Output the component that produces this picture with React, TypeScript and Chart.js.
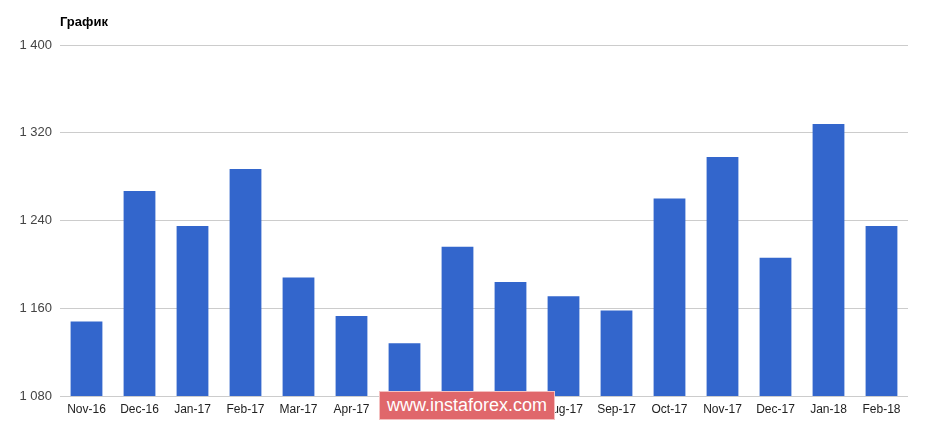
import React, { useEffect, useRef } from "react";
import { Chart, registerables } from "chart.js";

Chart.register(...registerables);

const categories = [
  "Nov-16", "Dec-16", "Jan-17", "Feb-17", "Mar-17", "Apr-17", "May-17", "Jun-17",
  "Jul-17", "Aug-17", "Sep-17", "Oct-17", "Nov-17", "Dec-17", "Jan-18", "Feb-18",
];
const values = [
  1148, 1267, 1235, 1287, 1188, 1153, 1128, 1216,
  1184, 1171, 1158, 1260, 1298, 1206, 1328, 1235,
];
const yTicks = [1080, 1160, 1240, 1320, 1400];
const chartTitle = "График";
const watermark = "www.instaforex.com";

const fmt = (v: number) => {
  const s = String(Math.round(v));
  return s.replace(/\B(?=(\d{3})+(?!\d))/g, " ");
};

export default function App() {
  const ref = useRef<HTMLCanvasElement | null>(null);

  useEffect(() => {
    document.body.style.margin = "0";
    const ctx = ref.current!.getContext("2d")!;
    const titlePlugin = {
      id: "leftTitle",
      afterDraw(chart: any) {
        const c = chart.ctx;
        c.save();
        c.font = "bold 13px Arial, 'Liberation Sans', sans-serif";
        c.fillStyle = "#000";
        c.textBaseline = "middle";
        c.textAlign = "left";
        c.fillText(chartTitle, chart.chartArea.left, 22);
        c.restore();
      },
    };
    const chart = new Chart(ctx, {
      type: "bar",
      data: {
        labels: categories,
        datasets: [
          {
            data: values,
            backgroundColor: "#3366CC",
            categoryPercentage: 1,
            barPercentage: 0.6,
          },
        ],
      },
      options: {
        animation: false,
        responsive: false,
        maintainAspectRatio: false,
        layout: { padding: { left: 0, right: 27, top: 45, bottom: 0 } },
        plugins: {
          legend: { display: false },
          title: { display: false },
          tooltip: { enabled: false },
        },
        scales: {
          x: {
            grid: { display: false, drawTicks: false },
            border: { display: false },
            ticks: {
              color: "#222",
              font: { family: "Arial, 'Liberation Sans', sans-serif", size: 12 },
              padding: 6,
              maxRotation: 0,
              autoSkip: false,
            },
            afterFit(scale: any) {
              scale.height = 26;
            },
          },
          y: {
            min: yTicks[0],
            max: yTicks[yTicks.length - 1],
            afterBuildTicks(scale: any) {
              scale.ticks = yTicks.map((v) => ({ value: v }));
            },
            grid: { color: "#cccccc", drawTicks: false, lineWidth: 1 },
            border: { display: false },
            ticks: {
              color: "#444",
              font: { family: "Arial, 'Liberation Sans', sans-serif", size: 13 },
              padding: 8,
              callback: (v: any) => fmt(Number(v)),
            },
            afterFit(scale: any) {
              scale.width = 60;
            },
          },
        },
      },
      plugins: [titlePlugin],
    });
    return () => chart.destroy();
  }, []);

  return (
    <div style={{ position: "absolute", left: 0, top: 0, width: 935, height: 422, background: "#fff" }}>
      <canvas ref={ref} width={935} height={422} style={{ width: 935, height: 422, display: "block" }} />
      <div
        style={{
          position: "absolute",
          left: 379,
          top: 391,
          width: 176,
          height: 29,
          boxSizing: "border-box",
          background: "#e0676b",
          border: "1px solid #f4c0c0",
          color: "#fff",
          fontFamily: "Arial, 'Liberation Sans', sans-serif",
          fontSize: 18,
          lineHeight: "27px",
          textAlign: "center",
        }}
      >
        {watermark}
      </div>
    </div>
  );
}
